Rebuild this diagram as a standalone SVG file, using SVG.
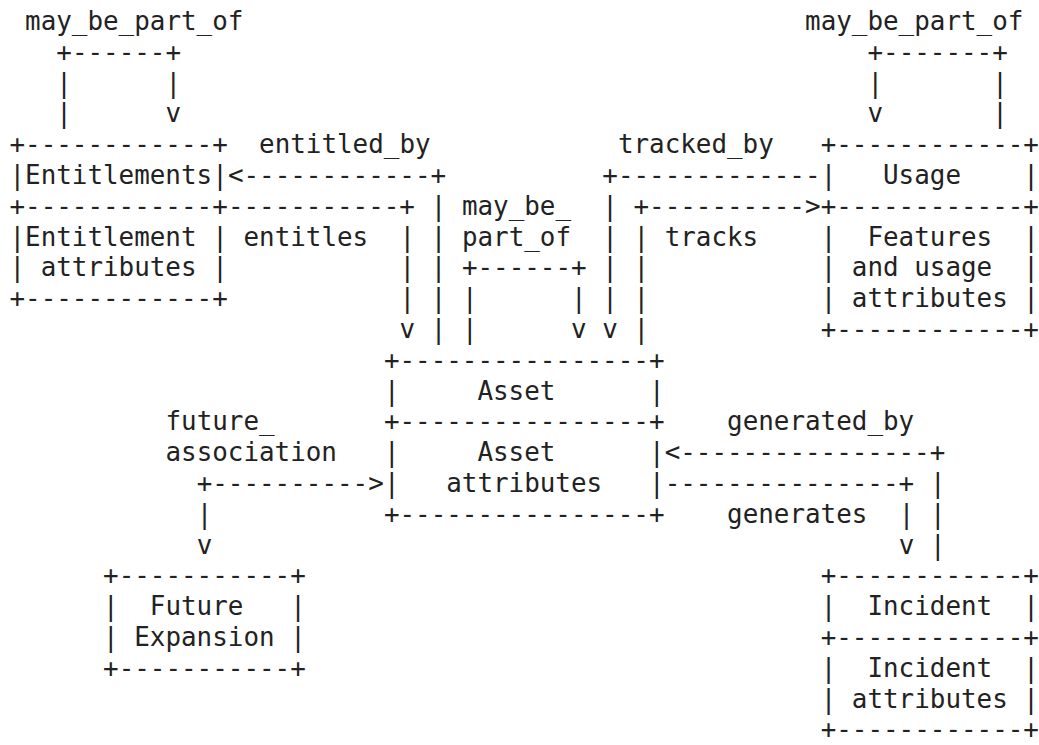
<svg xmlns="http://www.w3.org/2000/svg" width="1039" height="745" viewBox="0 0 1039 745" xml:space="preserve">
<style>
text { font-family: "DejaVu Sans Mono", "Liberation Mono", monospace; font-size: 25.9px; fill: #222222; white-space: pre; }
</style>
<rect x="0" y="0" width="1039" height="745" fill="#ffffff"/>
<g id="connectors">
  <g id="entitlements-self-loop">
    <text x="25.1" y="30">may_be_part_of</text>
    <text x="56.3" y="60.8">+------+</text>
    <text x="56.3" y="91.6">|      |</text>
    <text x="56.3" y="122.4">|      v</text>
  </g>
  <g id="usage-self-loop">
    <text x="805.1" y="30">may_be_part_of</text>
    <text x="867.5" y="60.8">+-------+</text>
    <text x="867.5" y="91.6">|       |</text>
    <text x="867.5" y="122.4">v       |</text>
  </g>
  <g id="entitled-by">
    <text x="259.1" y="153.2">entitled_by</text>
    <text x="227.9" y="184">&lt;------------+</text>
    <text x="430.7" y="214.8">|</text>
    <text x="430.7" y="245.6">|</text>
    <text x="430.7" y="276.4">|</text>
    <text x="430.7" y="307.2">|</text>
    <text x="430.7" y="338">|</text>
  </g>
  <g id="entitles">
    <text x="227.9" y="214.8">-----------+</text>
    <text x="243.5" y="245.6">entitles</text>
    <text x="399.5" y="245.6">|</text>
    <text x="399.5" y="276.4">|</text>
    <text x="399.5" y="307.2">|</text>
    <text x="399.5" y="338">v</text>
  </g>
  <g id="asset-self-loop">
    <text x="461.9" y="214.8">may_be_</text>
    <text x="461.9" y="245.6">part_of</text>
    <text x="461.9" y="276.4">+------+</text>
    <text x="461.9" y="307.2">|      |</text>
    <text x="461.9" y="338">|      v</text>
  </g>
  <g id="tracked-by">
    <text x="617.9" y="153.2">tracked_by</text>
    <text x="602.3" y="184">+-------------</text>
    <text x="602.3" y="214.8">|</text>
    <text x="602.3" y="245.6">|</text>
    <text x="602.3" y="276.4">|</text>
    <text x="602.3" y="307.2">|</text>
    <text x="602.3" y="338">v</text>
  </g>
  <g id="tracks">
    <text x="633.5" y="214.8">+----------&gt;</text>
    <text x="664.7" y="245.6">tracks</text>
    <text x="633.5" y="245.6">|</text>
    <text x="633.5" y="276.4">|</text>
    <text x="633.5" y="307.2">|</text>
    <text x="633.5" y="338">|</text>
  </g>
  <g id="generated-by">
    <text x="727.1" y="430.4">generated_by</text>
    <text x="664.7" y="461.2">&lt;----------------+</text>
    <text x="929.9" y="492">|</text>
    <text x="929.9" y="522.8">|</text>
    <text x="929.9" y="553.6">|</text>
  </g>
  <g id="generates">
    <text x="664.7" y="492">---------------+</text>
    <text x="727.1" y="522.8">generates</text>
    <text x="898.7" y="522.8">|</text>
    <text x="898.7" y="553.6">v</text>
  </g>
  <g id="future-association">
    <text x="165.5" y="430.4">future_</text>
    <text x="165.5" y="461.2">association</text>
    <text x="196.7" y="492">+----------&gt;</text>
    <text x="196.7" y="522.8">|</text>
    <text x="196.7" y="553.6">v</text>
  </g>
</g>
<g id="entitlements">
  <text x="9.5" y="153.2">+------------+</text>
  <text x="9.5" y="184">|Entitlements|</text>
  <text x="9.5" y="214.8">+------------+</text>
  <text x="9.5" y="245.6">|Entitlement |</text>
  <text x="9.5" y="276.4">| attributes |</text>
  <text x="9.5" y="307.2">+------------+</text>
</g>
<g id="usage">
  <text x="820.7" y="153.2">+------------+</text>
  <text x="820.7" y="184">|   Usage    |</text>
  <text x="820.7" y="214.8">+------------+</text>
  <text x="820.7" y="245.6">|  Features  |</text>
  <text x="820.7" y="276.4">| and usage  |</text>
  <text x="820.7" y="307.2">| attributes |</text>
  <text x="820.7" y="338">+------------+</text>
</g>
<g id="asset">
  <text x="383.9" y="368.8">+----------------+</text>
  <text x="383.9" y="399.6">|     Asset      |</text>
  <text x="383.9" y="430.4">+----------------+</text>
  <text x="383.9" y="461.2">|     Asset      |</text>
  <text x="383.9" y="492">|   attributes   |</text>
  <text x="383.9" y="522.8">+----------------+</text>
</g>
<g id="future-expansion">
  <text x="103.1" y="584.4">+-----------+</text>
  <text x="103.1" y="615.2">|  Future   |</text>
  <text x="103.1" y="646">| Expansion |</text>
  <text x="103.1" y="676.8">+-----------+</text>
</g>
<g id="incident">
  <text x="820.7" y="584.4">+------------+</text>
  <text x="820.7" y="615.2">|  Incident  |</text>
  <text x="820.7" y="646">+------------+</text>
  <text x="820.7" y="676.8">|  Incident  |</text>
  <text x="820.7" y="707.6">| attributes |</text>
  <text x="820.7" y="738.4">+------------+</text>
</g>
</svg>
